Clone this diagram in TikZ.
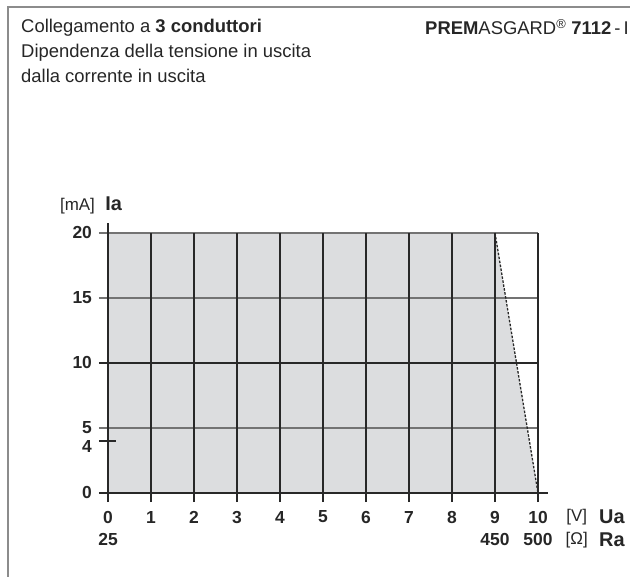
\documentclass[tikz,border=0pt]{standalone}
\usepackage{fontspec}
\setmainfont{Liberation Sans}
\usetikzlibrary{positioning}

\definecolor{framegray}{RGB}{140,140,140}
\definecolor{areagray}{RGB}{220,221,223}
\definecolor{gridgray}{RGB}{115,115,115}
\definecolor{griddark}{RGB}{40,40,40}

\begin{document}
\begin{tikzpicture}[x=1bp,y=1bp,
  txt/.style={font=\fontsize{18.5}{21}\selectfont,inner sep=0pt,anchor=base west,text=black!85},
  ticklbl/.style={font=\fontsize{17.5}{20}\selectfont\bfseries,inner sep=0pt,text=black!85},
  unitlbl/.style={font=\fontsize{17}{20}\selectfont,inner sep=0pt,text=black!85},
  axlbl/.style={font=\fontsize{20}{23}\selectfont\bfseries,inner sep=0pt,text=black!85},
  hline/.style={gridgray,line width=1.2bp},
  vline/.style={griddark,line width=1.2bp}]
  \useasboundingbox (0,0) rectangle (630,577);
  % frame
  \draw[framegray,line width=1.5bp] (630,570) -- (8,570) -- (8,0);
  % header
  \node[txt] (t1) at (21,544) {Collegamento a \textbf{3 conduttori}};
  \node[txt] (t2) at ([yshift=-25bp]t1.base west) {Dipendenza della tensione in uscita};
  \node[txt] (t3) at ([yshift=-25bp]t2.base west) {dalla corrente in uscita};
  \node[txt] (prod) at (425,542) {\textbf{PREM}ASGARD\textsuperscript{®} \textbf{7112}\,-\,I};

  \begin{scope}[shift={(108bp,84bp)},x=43bp,y=13bp]
    % area
    \fill[areagray] (0,0) -- (0,20) -- (9,20) -- (10,0) -- cycle;
    % grid
    \foreach \v in {5,15,20}
      \draw[hline] (-0.21,\v) -- (10,\v);
    \draw[vline] (-0.21,10) -- (10,10);
    \draw[vline] (-0.21,0) -- (10.23,0);
    \draw[vline] (-0.21,4) -- (0.19,4);
    \draw[vline] (0,-0.7) -- (0,20.75);
    \foreach \u in {1,...,10}
      \draw[vline] (\u,-0.7) -- (\u,20);
    \draw[griddark,line width=1.3bp,dash pattern=on 2.5bp off 1.5bp] (9,20) -- (10,0);
    % y labels
    \foreach \v in {20,15,10,0}
      \node[ticklbl,anchor=east] (y\v) at (-0.37,\v) {\v};
    \node[ticklbl,anchor=east] (y5) at (-0.37,5.05) {5};
    \node[ticklbl,anchor=east] (y4) at (-0.37,3.6) {4};
    \node[unitlbl,anchor=base east] (mA) at (-0.3,21.75) {[mA]};
    \node[axlbl,right=10bp of mA.base east,anchor=base west] (Ia) {Ia};
    % x labels
    \foreach \u in {0,...,10}
      \node[ticklbl] (x\u) at (\u,-1.85) {\u};
    \node[ticklbl] (r0) at (0,-3.6) {25};
    \node[ticklbl] (r9) at (9,-3.6) {450};
    \node[ticklbl] (r10) at (10,-3.6) {500};
    \node[unitlbl] (V) at (10.9,-1.85) {[V]};
    \node[unitlbl] (Ohm) at (10.9,-3.6) {[Ω]};
    \node[axlbl] (Ua) at (11.72,-1.85) {Ua};
    \node[axlbl] (Ra) at (11.72,-3.6) {Ra};
  \end{scope}
\end{tikzpicture}
\end{document}
